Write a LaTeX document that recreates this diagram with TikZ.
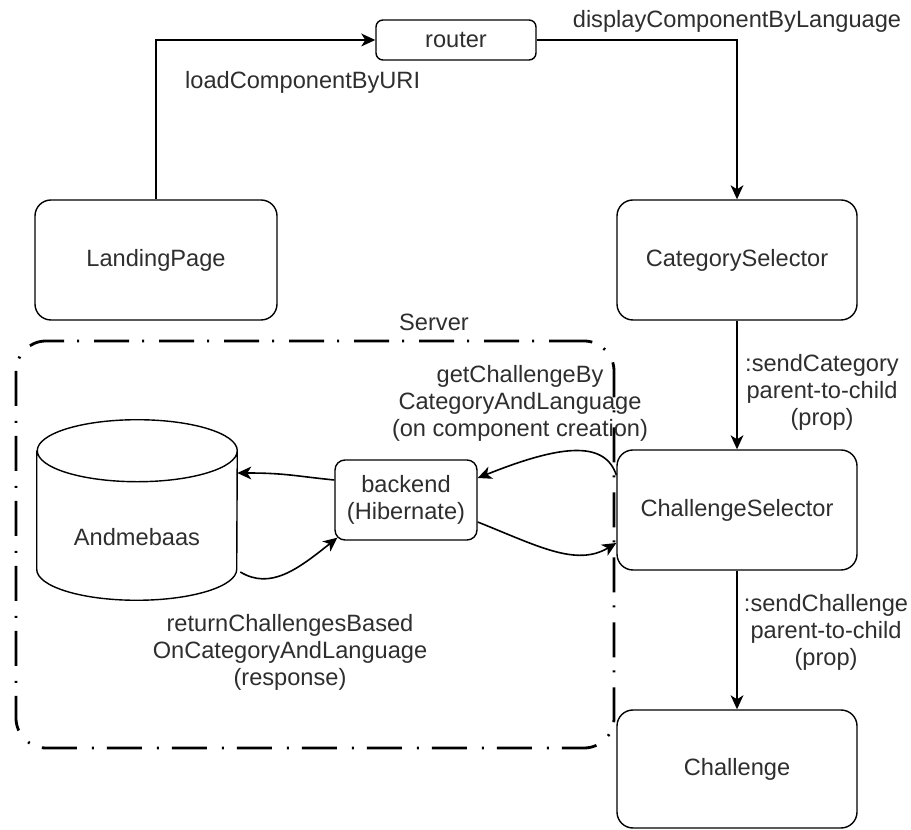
\documentclass[tikz,border=0pt]{standalone}
\usepackage{fontspec}
\setmainfont{Liberation Sans}
\usetikzlibrary{arrows.meta}

\begin{document}
\begin{tikzpicture}[
    every node/.style={text=black!82},
    comp/.style={draw=black, line width=0.035cm, rounded corners=0.4cm, minimum width=6.000000cm, minimum height=3.000000cm, inner sep=0},
    flow/.style={-{Stealth[length=0.35cm, width=0.32cm, inset=0.1cm]}, line width=0.04cm},
    serverbox/.style={draw=black, line width=0.07cm, rounded corners=0.75cm, dash pattern=on 0.875cm off 0.375cm on 0.05cm off 0.325cm, inner sep=0}
]
                        \useasboundingbox (0,0) rectangle (22.775000,20.725000);
                        {\fontsize{16.8}{19.2}\selectfont

                        % Drawing box Server
                        \node [serverbox, minimum width=14.950000cm, minimum height=10.175000cm] (server) at (7.875000,7.112500) {};%
                        \draw (10.850000,12.675000) node (serverlbl) { Server };%

                        % Drawing box router
                        \node [comp, rounded corners=0.175cm, minimum width=4.000000cm, minimum height=1.000000cm] (router) at (11.400000,19.725000) { router };%

                        % Drawing box LandingPage
                        \node [comp, minimum width=6.050000cm] (landing) at (3.900000,14.225000) { LandingPage };%

                        % Drawing box CategorySelector
                        \node [comp] (catsel) at (18.425000,14.225000) { CategorySelector };%

                        % Drawing box ChallengeSelector
                        \node [comp] (chalsel) at (18.425000,7.975000) { ChallengeSelector };%

                        % Drawing box Challenge
                        \node [comp, minimum height=2.950000cm] (chal) at (18.425000,1.500000) { Challenge };%

                        % Drawing box backend
                        \node [comp, rounded corners=0.25cm, minimum width=3.550000cm, minimum height=2.000000cm, align=center] (backend) at (10.150000,8.225000) { backend\\(Hibernate) };%

                        % Drawing cylinder Andmebaas
                        \node [minimum width=5.000000cm, minimum height=4.500000cm, inner sep=0] (db) at (3.425000,7.975000) {};%
                        \draw [line width=0.035cm] ([yshift=-0.775cm]db.north west) -- ([yshift=0.775cm]db.south west)
                            arc [start angle=180, end angle=360, x radius=2.5cm, y radius=0.775cm]
                            -- ([yshift=-0.775cm]db.north east)
                            arc [start angle=0, end angle=360, x radius=2.5cm, y radius=0.775cm];%
                        \draw (3.425000,7.300000) node (dblbl) { Andmebaas };%

                        % Drawing line loadComponentByURI
                        \draw [flow] (landing.north) |- (router.west);%
                        \draw (4.425000,18.675000) node [anchor=west] (loadlbl) { loadComponentByURI };%

                        % Drawing line displayComponentByLanguage
                        \draw [flow] (router.east) -| (catsel.north);%
                        \draw (18.425000,20.200000) node (displbl) { displayComponentByLanguage };%

                        % Drawing line sendCategory
                        \draw [flow] (catsel.south) -- (chalsel.north);%
                        \draw (20.550000,10.925000) node [align=center] (catlbl) { :sendCategory\\parent-to-child\\(prop) };%

                        % Drawing line sendChallenge
                        \draw [flow] (chalsel.south) -- (chal.north);%
                        \draw (20.650000,4.925000) node [align=center] (chlbl) { :sendChallenge\\parent-to-child\\(prop) };%

                        % Drawing line getChallenge
                        \draw [flow] ([yshift=0.875cm]chalsel.west) .. controls +(-0.3,0.9) and +(2.0,0.8) .. ([yshift=0.55cm]backend.east);%
                        \draw (13.000000,10.650000) node [align=center] (getlbl) { getChallengeBy\\CategoryAndLanguage\\(on component creation) };%

                        % Drawing line backend to ChallengeSelector
                        \draw [flow] ([yshift=-0.55cm]backend.east) .. controls +(1.5,-0.6) and +(-1.0,-0.6) .. ([yshift=-0.825cm]chalsel.west);%

                        % Drawing line backend to Andmebaas
                        \draw [flow] ([yshift=0.5cm]backend.west) .. controls +(-1.0,0.1) and +(1.2,0) .. ([yshift=0.925cm]db.east);%

                        % Drawing line returnChallenges
                        \draw [flow] ([xshift=0.075cm,yshift=-1.55cm]db.east) .. controls +(0.75,-0.45) and +(-1.0,-0.8) .. ([xshift=0.075cm,yshift=0.075cm]backend.south west);%
                        \draw (7.250000,4.425000) node [align=center] (retlbl) { returnChallengesBased\\OnCategoryAndLanguage\\(response) };%
                        }
                    \end{tikzpicture}
\end{document}
